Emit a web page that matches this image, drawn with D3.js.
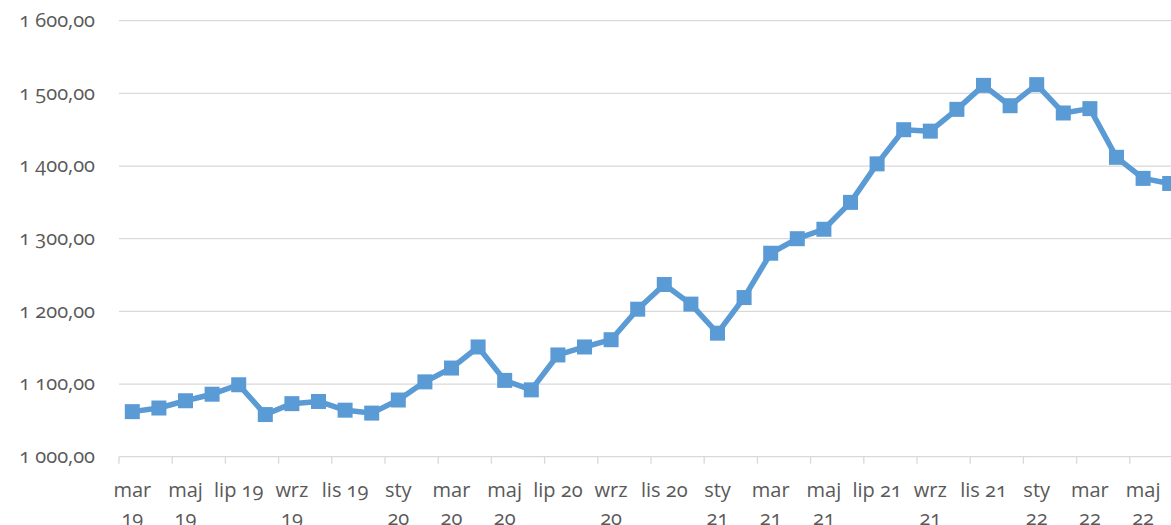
<!DOCTYPE html>
<html>
<head>
<meta charset="utf-8">
<script src="https://cdn.jsdelivr.net/npm/d3@7"></script>
<style>
body { margin:0; background:#fff; }
text { font-family:"Open Sans", sans-serif; font-variant-numeric:oldstyle-nums; fill:#595959; }
</style>
</head>
<body>
<svg id="chart"></svg>
<script>
//months of the series, one per point
var months = ["mar 19","kwi 19","maj 19","cze 19","lip 19","sie 19","wrz 19","paź 19","lis 19","gru 19",
              "sty 20","lut 20","mar 20","kwi 20","maj 20","cze 20","lip 20","sie 20","wrz 20","paź 20","lis 20","gru 20",
              "sty 21","lut 21","mar 21","kwi 21","maj 21","cze 21","lip 21","sie 21","wrz 21","paź 21","lis 21","gru 21",
              "sty 22","lut 22","mar 22","kwi 22","maj 22","cze 22"]
//values
var values = [1062,1067,1077,1086,1099,1058,1073,1076,1064,1060,
              1078,1103,1122,1151,1105,1092,1140,1151,1161,1203,1237,1210,
              1170,1219,1280,1300,1313,1350,1403,1450,1448,1478,1511,1483,
              1512,1473,1479,1412,1383,1376]
//y ticks
var yTicks = [1000,1100,1200,1300,1400,1500,1600]

var initGraph = function()
{
    var screen = {width:1171,height:525}
    var plot = {left:119,right:1183,top:20.7,bottom:456.7}
    var fontSize = "20px"

    var svg = d3.select("#chart")
        .attr("width",screen.width)
        .attr("height",screen.height)

    var xScale = d3.scaleBand()
        .domain(months)
        .range([plot.left,plot.right])
    var band = xScale.bandwidth()

    var yScale = d3.scaleLinear()
        .domain([1000,1600])
        .range([plot.bottom,plot.top])

    var locale = d3.formatLocale({decimal:",",thousands:" ",grouping:[3],currency:["",""]})
    var fmt = locale.format(",.2f")

    //gridlines
    svg.append("g")
       .selectAll("line")
       .data(yTicks.slice(1))
       .enter()
       .append("line")
       .attr("x1",plot.left)
       .attr("x2",plot.right)
       .attr("y1",function(d){return yScale(d)})
       .attr("y2",function(d){return yScale(d)})
       .attr("stroke","#d9d9d9")
       .attr("stroke-width",1.3)

    //y labels
    svg.append("g")
       .selectAll("text")
       .data(yTicks)
       .enter()
       .append("text")
       .text(function(d){return fmt(d)})
       .attr("x",95)
       .attr("y",function(d){return yScale(d)})
       .attr("dy","0.32em")
       .attr("text-anchor","end")
       .style("font-size",fontSize)

    //x axis line and ticks every 2 months
    svg.append("line")
       .attr("x1",plot.left)
       .attr("x2",plot.right)
       .attr("y1",plot.bottom)
       .attr("y2",plot.bottom)
       .attr("stroke","#d9d9d9")
       .attr("stroke-width",1.3)

    var shown = months.filter(function(m,i){return i%2==0})

    svg.append("g")
       .selectAll("line")
       .data(shown)
       .enter()
       .append("line")
       .attr("x1",function(m){return xScale(m)})
       .attr("x2",function(m){return xScale(m)})
       .attr("y1",plot.bottom)
       .attr("y2",plot.bottom+7)
       .attr("stroke","#d9d9d9")
       .attr("stroke-width",1.3)

    //x labels, wrapped when wider than two months
    var labels = svg.append("g")
       .selectAll("text")
       .data(shown)
       .enter()
       .append("text")
       .attr("text-anchor","middle")
       .attr("x",function(m){return xScale(m)+band/2})
       .attr("y",497)
       .style("font-size",fontSize)
       .text(function(m){return m})

    labels.each(function(m)
    {
        var t = d3.select(this)
        if(this.getComputedTextLength() > band*2 - 1)
        {
            var parts = m.split(" ")
            var x = xScale(m)+band/2
            t.text(null)
            t.append("tspan").attr("x",x).text(parts[0])
            t.append("tspan").attr("x",x).attr("dy",28).text(parts[1])
        }
    })

    //line and markers
    var line = d3.line()
        .x(function(d,i){return xScale(months[i])+band/2})
        .y(function(d){return yScale(d)})

    svg.append("path")
       .datum(values)
       .attr("d",line)
       .attr("fill","none")
       .attr("stroke","#5b9bd5")
       .attr("stroke-width",5.5)
       .attr("stroke-linejoin","round")

    var size = 15
    svg.append("g")
       .selectAll("rect")
       .data(values)
       .enter()
       .append("rect")
       .attr("x",function(d,i){return xScale(months[i])+band/2-size/2})
       .attr("y",function(d){return yScale(d)-size/2})
       .attr("width",size)
       .attr("height",size)
       .attr("fill","#5b9bd5")
}

initGraph()
</script>
</body>
</html>
